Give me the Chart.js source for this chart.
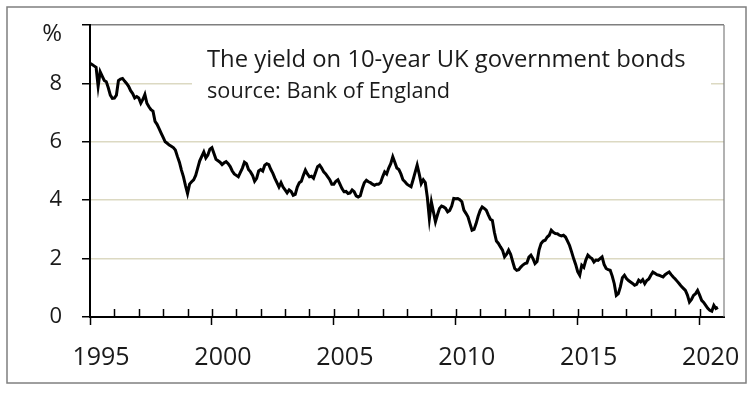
<!DOCTYPE html>
<html>
<head>
<meta charset="utf-8">
<script src="https://cdn.jsdelivr.net/npm/chart.js@4.4.1/dist/chart.umd.min.js"></script>
<style>
  html, body { margin: 0; padding: 0; background: #fff; }
</style>
</head>
<body>
<canvas id="chart" width="754" height="393"></canvas>
<script>
// monthly yields, % (Jan 1995 onwards)
const startYear = 1995;
const yields1995to1999 = [
  8.69, 8.65, 8.6, 8.55, 7.9, 8.4, 8.25, 8.1, 8.06, 7.85, 7.6, 7.49,
  7.5, 7.6, 8.1, 8.15, 8.17, 8.08, 8.0, 7.9, 7.75, 7.65, 7.5, 7.55,
  7.5, 7.32, 7.45, 7.62, 7.32, 7.2, 7.1, 7.05, 6.7, 6.6, 6.45, 6.3,
  6.15, 6.0, 5.95, 5.89, 5.85, 5.8, 5.72, 5.5, 5.3, 5.03, 4.8, 4.5,
  4.23, 4.55, 4.63, 4.7, 4.85, 5.1, 5.35, 5.5, 5.65, 5.45, 5.55, 5.75
];
const yields2000to2004 = [
  5.8, 5.6, 5.4, 5.35, 5.3, 5.22, 5.28, 5.32, 5.25, 5.15, 5.0, 4.9,
  4.85, 4.8, 4.95, 5.1, 5.3, 5.25, 5.05, 4.97, 4.85, 4.65, 4.75, 5.0,
  5.05, 5.0, 5.2, 5.25, 5.22, 5.05, 4.92, 4.75, 4.6, 4.45, 4.6, 4.45,
  4.35, 4.25, 4.35, 4.3, 4.17, 4.2, 4.45, 4.6, 4.65, 4.85, 5.03, 4.9,
  4.8, 4.82, 4.75, 4.95, 5.15, 5.2, 5.1, 4.97, 4.9, 4.8, 4.7, 4.55
];
const yields2005to2009 = [
  4.55, 4.65, 4.7, 4.55, 4.4, 4.29, 4.3, 4.23, 4.25, 4.35, 4.29, 4.15,
  4.11, 4.15, 4.4, 4.6, 4.68, 4.63, 4.6, 4.55, 4.51, 4.55, 4.55, 4.6,
  4.8, 4.97, 4.9, 5.1, 5.25, 5.49, 5.3, 5.1, 5.05, 4.9, 4.7, 4.63,
  4.55, 4.5, 4.46, 4.7, 4.95, 5.2, 4.9, 4.57, 4.7, 4.6, 4.1, 3.37,
  3.94, 3.6, 3.26, 3.5, 3.72, 3.8, 3.77, 3.72, 3.6, 3.65, 3.8, 4.06
];
const yields2010to2014 = [
  4.05, 4.06, 4.02, 3.95, 3.66, 3.55, 3.43, 3.2, 2.97, 3.0, 3.2, 3.45,
  3.65, 3.77, 3.72, 3.66, 3.5, 3.35, 3.31, 2.9, 2.6, 2.52, 2.4, 2.29,
  2.06, 2.15, 2.29, 2.15, 1.9, 1.66, 1.6, 1.62, 1.71, 1.78, 1.83, 1.85,
  2.05, 2.12, 2.0, 1.83, 1.9, 2.3, 2.52, 2.6, 2.63, 2.74, 2.8, 2.97,
  2.9, 2.86, 2.85, 2.8, 2.78, 2.8, 2.74, 2.6, 2.45, 2.23, 2.0, 1.8
];
const yields2015to2020 = [
  1.55, 1.43, 1.77, 1.7, 1.95, 2.12, 2.05, 2.0, 1.88, 1.95, 1.94, 2.0,
  2.06, 1.8, 1.66, 1.62, 1.6, 1.4, 1.14, 0.74, 0.8, 1.03, 1.35, 1.43,
  1.32, 1.25, 1.2, 1.15, 1.09, 1.12, 1.26, 1.2, 1.28, 1.14, 1.25, 1.3,
  1.43, 1.54, 1.5, 1.45, 1.43, 1.4, 1.37, 1.45, 1.5, 1.54, 1.45, 1.37,
  1.3, 1.22, 1.14, 1.05, 0.98, 0.91, 0.75, 0.51, 0.6, 0.74, 0.8, 0.91,
  0.75, 0.57, 0.5, 0.4, 0.3, 0.23, 0.2, 0.4, 0.29, 0.33
];

const titleText = "The yield on 10-year UK government bonds";
const sourceText = "source: Bank of England";
const unitLabel = "%";

const allYields = [].concat(
  yields1995to1999, yields2000to2004, yields2005to2009,
  yields2010to2014, yields2015to2020
);
const points = allYields.map((v, i) => ({ x: startYear + i / 12, y: v }));

const FONT = '"Open Sans", "Noto Sans", sans-serif';

// frame, inner year ticks and the title box
const decorations = {
  id: "decorations",
  beforeDraw(chart) {
    const c = chart.ctx;
    c.save();
    c.fillStyle = "#fff";
    c.fillRect(0, 0, chart.width, chart.height);
    c.strokeStyle = "#7f7f7f";
    c.lineWidth = 1.5;
    c.strokeRect(7, 7, 739, 376);
    c.restore();
  },
  afterDatasetsDraw(chart) {
    const c = chart.ctx;
    const a = chart.chartArea;
    const x = chart.scales.x;
    c.save();

    c.strokeStyle = "#7f7f7f";
    c.lineWidth = 1.2;
    c.beginPath();
    c.moveTo(a.right, a.top);
    c.lineTo(a.right, a.bottom);
    c.stroke();

    c.strokeStyle = "#000";
    c.lineWidth = 1.5;
    for (let yr = startYear + 1; yr <= 2020; yr++) {
      const px = Math.round(x.getPixelForValue(yr)) + 0.5;
      c.beginPath();
      c.moveTo(px, a.bottom);
      c.lineTo(px, a.bottom - 8);
      c.stroke();
    }

    // white text box hides the 8% gridline behind the title
    c.fillStyle = "#fff";
    c.fillRect(192, 38, 519, 72);
    c.fillStyle = "#1a1a1a";
    c.textAlign = "left";
    c.textBaseline = "alphabetic";
    c.font = "23.8px " + FONT;
    c.fillText(titleText, 207, 67);
    c.font = "21.7px " + FONT;
    c.fillText(sourceText, 207, 98);

    c.textAlign = "right";
    c.font = "24px " + FONT;
    c.fillText(unitLabel, 62, 41);
    c.restore();
  }
};

new Chart(document.getElementById("chart"), {
  type: "line",
  data: {
    datasets: [{
      data: points,
      borderColor: "#000",
      borderWidth: 3,
      pointRadius: 0,
      tension: 0,
      fill: false
    }]
  },
  options: {
    responsive: false,
    animation: false,
    devicePixelRatio: 1,
    layout: { padding: { top: 25, right: 30, left: 0, bottom: 0 } },
    plugins: {
      legend: { display: false },
      tooltip: { enabled: false }
    },
    scales: {
      x: {
        type: "linear",
        min: 1995,
        max: 2021,
        afterFit: (s) => { s.height = 76; },
        grid: {
          drawOnChartArea: false,
          drawTicks: true,
          tickLength: 8,
          tickWidth: 1.5,
          tickColor: (ctx) =>
            ctx.tick && ctx.tick.value % 5 === 0 && ctx.tick.value < 2021 ? "#000" : "rgba(0,0,0,0)"
        },
        border: { color: "#000", width: 2 },
        ticks: {
          stepSize: 1,
          maxTicksLimit: 100,
          autoSkip: false,
          maxRotation: 0,
          labelOffset: 11,
          padding: 18,
          color: "#1a1a1a",
          font: { family: FONT, size: 25 },
          callback: (v) => (v % 5 === 0 && v < 2021 ? String(v) : "")
        }
      },
      y: {
        min: 0,
        max: 10,
        afterFit: (s) => {
          s.width = 90;
          s.paddingTop = 0;
          s.paddingBottom = 0;
        },
        grid: {
          color: (ctx) => (ctx.tick && ctx.tick.value === 10 ? "#7f7f7f" : "#dcd9c2"),
          lineWidth: 1.5,
          tickColor: "#000",
          tickLength: 8,
          tickWidth: 1.5
        },
        border: { color: "#000", width: 2 },
        ticks: {
          stepSize: 2,
          padding: 20,
          color: "#1a1a1a",
          font: { family: FONT, size: 22 },
          callback: (v) => (v === 10 ? "" : v)
        }
      }
    }
  },
  plugins: [decorations]
});
</script>
</body>
</html>
